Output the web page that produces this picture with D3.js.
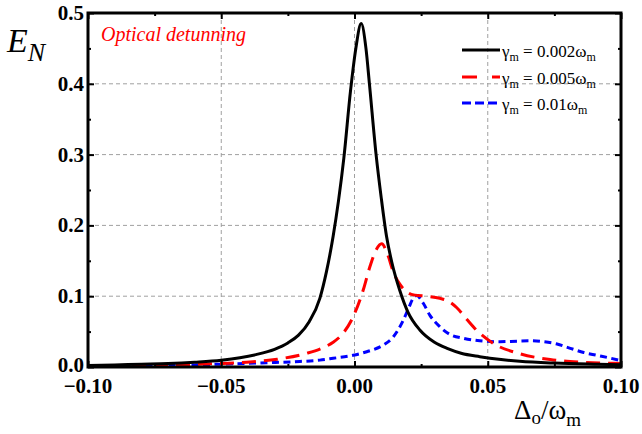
<!DOCTYPE html>
<html><head><meta charset="utf-8">
<script src="https://cdn.jsdelivr.net/npm/d3@7"></script>
<style>body{margin:0;background:#fff}svg{display:block}
.sf{font-family:"Liberation Serif","Times New Roman",Tinos,"DejaVu Serif",serif}</style>
</head><body>
<svg id="c" width="642" height="434"></svg>
<script>
// ---- data ----
const seriesNames = ["γm = 0.002ωm", "γm = 0.005ωm", "γm = 0.01ωm"];
const gamma002 = [
  [-0.1,0.002],[-0.09,0.003],[-0.08,0.004],[-0.07,0.005],[-0.06,0.0068],[-0.05,0.0095],
  [-0.043,0.013],[-0.037,0.0175],[-0.030,0.025],[-0.025,0.034],[-0.021,0.045],[-0.017,0.064],
  [-0.013,0.097],[-0.0105,0.135],[-0.008,0.185],[-0.006,0.235],[-0.004,0.295],[-0.0015,0.39],
  [0.0005,0.45],[0.0025,0.485],[0.0043,0.45],[0.0056,0.40],[0.0081,0.30],[0.010,0.24],
  [0.012,0.185],[0.014,0.148],[0.017,0.108],[0.020,0.078],[0.0246,0.052],[0.030,0.035],
  [0.035,0.026],[0.040,0.0195],[0.047,0.0146],[0.055,0.0105],[0.062,0.008],[0.075,0.0055],
  [0.09,0.004],[0.1,0.0033]
];
const gamma005 = [
  [-0.1,0.0015],[-0.09,0.002],[-0.08,0.0025],[-0.07,0.003],[-0.06,0.0038],[-0.05,0.005],
  [-0.0405,0.0068],[-0.029,0.011],[-0.018,0.0193],[-0.012,0.027],[-0.008,0.035],[-0.004,0.049],
  [-0.0005,0.071],[0.0033,0.109],[0.0058,0.142],[0.0082,0.166],[0.0102,0.174],[0.0125,0.158],
  [0.0146,0.134],[0.017,0.117],[0.020,0.105],[0.0227,0.1015],[0.0271,0.100],[0.032,0.097],
  [0.0352,0.093],[0.0383,0.084],[0.042,0.068],[0.0458,0.052],[0.052,0.0335],[0.0615,0.0193],
  [0.0734,0.0105],[0.0846,0.0068],[0.096,0.0053],[0.1,0.005]
];
const gamma01 = [
  [-0.1,0.001],[-0.08,0.0017],[-0.06,0.003],[-0.0456,0.0045],[-0.033,0.006],[-0.0205,0.0078],
  [-0.013,0.0097],[-0.008,0.0123],[-0.0005,0.0165],[0.0046,0.0216],[0.0108,0.031],[0.0146,0.0428],
  [0.0183,0.066],[0.0205,0.085],[0.022,0.097],[0.0233,0.101],[0.0258,0.09],[0.0283,0.073],
  [0.032,0.057],[0.0358,0.046],[0.041,0.0405],[0.047,0.037],[0.0546,0.0357],[0.061,0.0365],
  [0.066,0.037],[0.071,0.0357],[0.076,0.0325],[0.081,0.0264],[0.086,0.0205],[0.091,0.0165],
  [0.096,0.0125],[0.1,0.009]
];
const xTicks = [-0.10,-0.05,0.00,0.05,0.10];
const xMinor = [-0.075,-0.025,0.025,0.075];
const yTicks = [0.0,0.1,0.2,0.3,0.4,0.5];
const yMinor = [0.05,0.15,0.25,0.35,0.45];

// ---- layout ----
const L=88, R=621, T=13, B=367;
const svg = d3.select("#c");
const x = d3.scaleLinear().domain([-0.1,0.1]).range([L,R]);
const y = d3.scaleLinear().domain([0,0.5]).range([B,T]);

// grid
const grid = svg.append("g").attr("stroke","#a0a0a0").attr("stroke-width",1).attr("stroke-dasharray","4,3");
xTicks.slice(1,-1).forEach(v=>grid.append("line").attr("x1",x(v)).attr("x2",x(v)).attr("y1",T).attr("y2",B));
yTicks.slice(1,-1).forEach(v=>grid.append("line").attr("y1",y(v)).attr("y2",y(v)).attr("x1",L).attr("x2",R));

// curves
const line = d3.line().x(d=>x(d[0])).y(d=>y(d[1])).curve(d3.curveMonotoneX);
svg.append("clipPath").attr("id","clp").append("rect").attr("x",L).attr("y",T).attr("width",R-L).attr("height",B-T);
const curves = svg.append("g").attr("clip-path","url(#clp)");
curves.append("path").datum(gamma01).attr("d",line).attr("fill","none").attr("stroke","#0000ff").attr("stroke-width",3).attr("stroke-dasharray","7,4.5");
curves.append("path").datum(gamma005).attr("d",line).attr("fill","none").attr("stroke","#ff0000").attr("stroke-width",3).attr("stroke-dasharray","14,8");
curves.append("path").datum(gamma002).attr("d",line).attr("fill","none").attr("stroke","#000").attr("stroke-width",3);

// axes (ticks inward, all four sides)
const mk = (axis, sc, vals, size) => axis(sc).tickValues(vals).tickSize(-size).tickFormat("");
[[mk(d3.axisBottom,x,xTicks,6),`translate(0,${B})`],[mk(d3.axisBottom,x,xMinor,3),`translate(0,${B})`],
 [mk(d3.axisTop,x,xTicks,6),`translate(0,${T})`],[mk(d3.axisTop,x,xMinor,3),`translate(0,${T})`],
 [mk(d3.axisLeft,y,yTicks,6),`translate(${L},0)`],[mk(d3.axisLeft,y,yMinor,3),`translate(${L},0)`],
 [mk(d3.axisRight,y,yTicks,6),`translate(${R},0)`],[mk(d3.axisRight,y,yMinor,3),`translate(${R},0)`]].forEach(([a,t])=>{
  const g=svg.append("g").attr("transform",t).call(a);
  g.select(".domain").remove();
  g.selectAll("line").attr("stroke","#000").attr("stroke-width",2);
});
svg.append("rect").attr("x",L).attr("y",T).attr("width",R-L).attr("height",B-T).attr("fill","none").attr("stroke","#000").attr("stroke-width",3);

// tick labels
const fmtX = d=> (d<0?"\u2212":"")+Math.abs(d).toFixed(2);
svg.append("g").selectAll("text").data(xTicks).join("text").attr("class","sf")
  .attr("x",d=>x(d)).attr("y",393).attr("text-anchor","middle")
  .attr("font-weight","bold").attr("font-size",21).text(fmtX);
svg.append("g").selectAll("text").data(yTicks).join("text").attr("class","sf")
  .attr("x",84).attr("y",d=>y(d)+(d===0?5:7)).attr("text-anchor","end")
  .attr("font-weight","bold").attr("font-size",21).text(d=>d.toFixed(1));

// axis titles
const yt = svg.append("text").attr("class","sf").attr("x",7).attr("y",52).attr("font-style","italic");
yt.append("tspan").attr("font-size",34).text("E");
yt.append("tspan").attr("font-size",26).attr("dy",9).text("N");
const xt = svg.append("text").attr("class","sf").attr("x",514).attr("y",419).attr("font-size",27);
xt.append("tspan").text("Δ");
xt.append("tspan").attr("font-size",19).attr("dy",5).text("o");
xt.append("tspan").attr("dy",-5).text("/ω");
xt.append("tspan").attr("font-size",19).attr("dy",7).text("m");

// annotation
svg.append("text").attr("class","sf").attr("x",101).attr("y",41).attr("fill","#ff0000")
  .attr("font-style","italic").attr("font-size",20).text("Optical detunning");

// legend
const legRows = [
  {c:"#000", dash:null, g:"0.002"},
  {c:"#ff0000", dash:"15,15", g:"0.005"},
  {c:"#0000ff", dash:"9,4", g:"0.01"}
];
const legY = [50,77,103];
legRows.forEach((r,i)=>{
  const yy = legY[i];
  svg.append("line").attr("x1",462).attr("x2",500).attr("y1",yy).attr("y2",yy)
    .attr("stroke",r.c).attr("stroke-width",3).attr("stroke-dasharray",r.dash);
  const t = svg.append("text").attr("class","sf").attr("x",502).attr("y",yy+7).attr("font-size",17);
  t.append("tspan").text("γ");
  t.append("tspan").attr("font-size",12).attr("dy",4).text("m");
  t.append("tspan").attr("dy",-4).text(" = "+r.g+"ω");
  t.append("tspan").attr("font-size",12).attr("dy",4).text("m");
});
</script>
</body></html>
